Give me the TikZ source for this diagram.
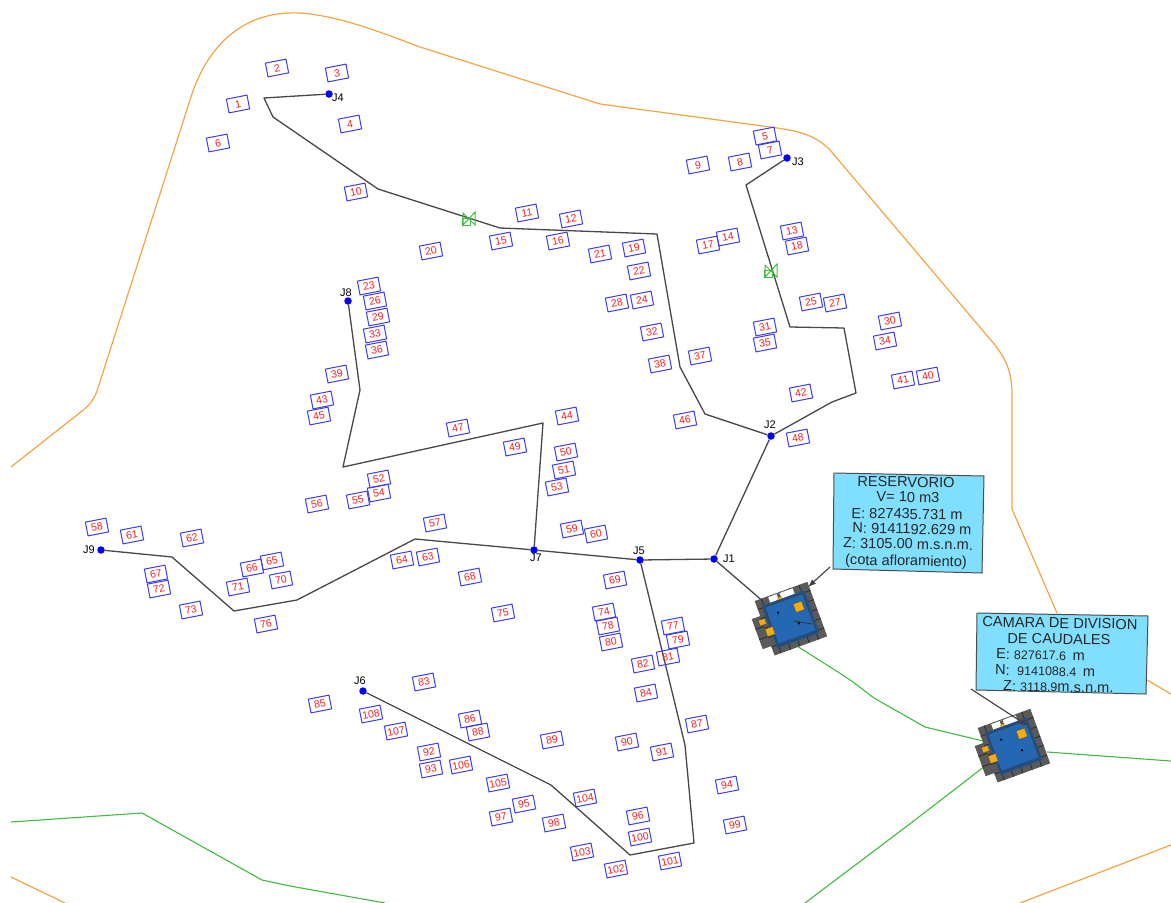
\documentclass[tikz,border=0pt]{standalone}
\usepackage{fontspec}
\setmainfont{Liberation Sans}
\usetikzlibrary{arrows.meta}
\definecolor{orng}{HTML}{F7A445}
\definecolor{grn}{HTML}{3FBC3F}
\definecolor{pipec}{HTML}{484848}
\definecolor{hblue}{HTML}{3C3CF0}
\definecolor{hred}{HTML}{F52020}
\definecolor{cal}{HTML}{80DFFF}
\definecolor{tankb}{HTML}{2468B4}
\definecolor{tankg}{HTML}{5A5A5A}
\definecolor{tanky}{HTML}{F0AC10}
\tikzset{
 house/.style={draw=hblue,line width=1pt,minimum width=21pt,minimum height=14pt,inner sep=0pt,rotate=11,text=hred,font=\fontsize{10.5}{10}\selectfont},
 junc/.style={circle,fill=blue,minimum size=7.5pt,inner sep=0pt},
 jlab/.style={font=\fontsize{11}{11}\selectfont,text=black,inner sep=0pt},
 pipeline/.style={draw=pipec,line width=1.3pt,line join=round},
 bound/.style={draw=orng,line width=1.2pt,line join=round},
 gline/.style={draw=grn,line width=1.1pt,line join=round},
 caltext/.style={font=\fontsize{14.6}{15}\selectfont,text=black!85,inner sep=0pt,rotate=-1},
 calbox/.style={draw=black!70,line width=1pt,fill=cal},
 leader/.style={draw=black!75,line width=1.1pt},
 valvec/.style={draw=grn,line width=1pt},
 pics/tank/.style={code={
   \fill[tankg] (-36,-13) rectangle (-24,19);
   \draw[black!85,line width=0.7pt] (-36,-2)--(-24,-2) (-36,9)--(-24,9);
   \fill[tankg] (-27,-29) rectangle (29,29);
   \foreach \i in {-20,-10,0,10,20}{
     \draw[black!85,line width=0.7pt] (\i,-29)--(\i,29);
     \draw[black!85,line width=0.7pt] (-27,\i)--(29,\i);}
   \fill[white] (-13,-28) rectangle (13,-22);
   \fill[tankg] (-4,-28) rectangle (-1,-22);
   \fill[tanky] (-5,-24) rectangle (0,-20);
   \fill[tankb!80!black] (-22,-22) rectangle (23,23);
   \fill[tankb] (-19,-19) rectangle (20,19);
   \draw[black!75,line width=0.7pt] (-20,-20) rectangle (21,21);
   \fill[tanky,draw=black!70] (8,-13) rectangle (17,-4);
   \fill[tanky,draw=black!70] (-27,1) rectangle (-19,9);
   \fill[tanky] (-30,-9) rectangle (-24,-4);
   \fill[black] (-9,-10) circle (1.4);
   \fill[black] (7,7) circle (1.4);
 }}
}
\begin{document}
\begin{tikzpicture}[x=1pt,y=-1pt]
\useasboundingbox (0,0) rectangle (1171,903);
\fill[white] (0,0) rectangle (1171,903);
% boundaries
\draw[bound] (11,467) -- (82,411) .. controls (90,405) and (95,398) .. (98,388) -- (190,100) .. controls (205,50) and (240,10) .. (300,13) .. controls (340,16) and (380,32) .. (420,47) -- (600,104) -- (770,127) .. controls (800,131) and (815,135) .. (830,150) -- (995,345) .. controls (1008,362) and (1012,375) .. (1012,395) -- (1012,509) -- (1057,613);
\draw[bound] (1147,680) -- (1171,694);
\draw[bound] (11,877) -- (65,903);
\draw[bound] (1020,903) -- (1171,845);
% green lines
\draw[gline] (11,822) -- (142,813) -- (262,880) -- (290,886) -- (385,903);
\draw[gline] (797,646) -- (838,672) -- (853,682) -- (874,698) -- (925,727) -- (983,741);
\draw[gline] (1047,752) -- (1171,761);
\draw[gline] (985,766) -- (915,820) -- (805,903);
% junctions
\node[junc] (J1) at (714,559) {};
\node[junc] (J2) at (771,436) {};
\node[junc] (J3) at (787,158) {};
\node[junc] (J4) at (329,94) {};
\node[junc] (J5) at (640,560) {};
\node[junc] (J6) at (363,691) {};
\node[junc] (J7) at (534,550) {};
\node[junc] (J8) at (348,301) {};
\node[junc] (J9) at (101,550) {};
\coordinate (tankin) at (765,603);
% pipes
\draw[pipeline] (J4) -- (264,98) -- (273,117) -- (378,189) -- (500,228) -- (657,234) -- (680,367) -- (705,414) -- (J2);
\draw[pipeline] (J3) -- (746,185) -- (790,327) -- (844,328) -- (856,393) -- (832,402) -- (J2);
\draw[pipeline] (J8) -- (360,390) -- (343,467) -- (543,423) -- (J7);
\draw[pipeline] (J9) -- (172,557) -- (234,611) -- (297,600) -- (415,539) -- (J7);
\draw[pipeline] (J7) -- (J5);
\draw[pipeline] (J5) -- (J1);
\draw[pipeline] (J1) -- (J2);
\draw[pipeline] (J1) -- (tankin);
\draw[pipeline] (J5) -- (685,745) -- (694,843) -- (630,855) -- (551,785) -- (J6);
% labels of junctions
\node[jlab] (LJ1) at (729,559) {J1};
\node[jlab] (LJ2) at (770,425) {J2};
\node[jlab] (LJ3) at (798,162) {J3};
\node[jlab] (LJ4) at (338,98) {J4};
\node[jlab] (LJ5) at (639,551) {J5};
\node[jlab] (LJ6) at (360,681) {J6};
\node[jlab] (LJ7) at (536,558) {J7};
\node[jlab] (LJ8) at (346,293) {J8};
\node[jlab] (LJ9) at (89,550) {J9};
% valves
\foreach \vx/\vy in {469/219,771/271}{
 \draw[valvec] (\vx-6,\vy-6) -- (\vx+6,\vy+6) -- (\vx+6,\vy-7) -- (\vx-6,\vy+6) -- cycle;
 \draw[valvec] (\vx-7,\vy-1) rectangle (\vx+1,\vy+6);
}
% houses
\foreach \n/\hx/\hy in {1/238/104,2/277/68,3/337/73,4/350/124,5/765/136,6/218/143,7/770/150,8/740/162,9/698/165,10/356/192,
11/527/213,12/571/219,13/792/231,14/728/237,15/501/241,16/558/241,17/708/245,18/797/246,19/634/248,20/431/251,
21/600/254,22/639/271,23/369/286,24/642/300,25/811/302,26/375/301,27/835/303,28/617/303,29/378/317,30/890/321,
31/765/327,32/652/332,33/375/334,34/885/341,35/765/343,36/377/350,37/700/356,38/660/364,39/337/374,40/928/376,
41/903/380,42/801/393,43/322/400,44/567/416,45/319/416,46/685/420,47/458/428,48/798/438,49/515/447,50/566/452,
51/564/470,52/379/479,53/557/487,54/379/493,55/358/500,56/317/504,57/435/523,58/97/527,59/572/529,60/596/534,
61/132/535,62/192/538,63/428/557,64/402/560,65/272/561,66/252/568,67/156/574,68/470/577,69/615/580,70/281/580,
71/238/587,72/159/589,73/191/610,74/604/612,75/503/613,76/266/624,77/673/626,78/608/626,79/678/640,80/611/642,
81/668/657,82/643/664,83/424/682,84/646/693,85/320/704,86/470/719,87/697/724,88/478/732,89/552/740,90/627/742,
91/662/752,92/429/752,93/431/769,94/727/785,95/524/804,96/638/816,97/501/817,98/554/823,99/735/825,100/640/837,
101/670/861,102/616/869,103/582/852,104/585/798,105/498/783,106/461/765,107/396/731,108/371/714}{
 \node[house] (h\n) at (\hx,\hy) {\n};
}
% tanks
\pic[rotate=20] at (790,619) {tank};
\draw[black!80,line width=0.8pt] (794,621) -- (812,624);
\pic[rotate=20] at (1013,746) {tank};
% callout 1
\draw[calbox] (834,473) -- (984,476) -- (982,573) -- (833,569) -- cycle;
\coordinate (c1a) at (830,567);
\coordinate (c1b) at (808,587);
\draw[leader,-{Latex[length=8pt,width=6pt]}] (c1a) -- (c1b);
\node[caltext] (t1) at (906,482) {RESERVORIO};
\node[caltext] (t2) at (908,497) {V= 10 m3};
\node[caltext] (t3) at (907,514) {E: 827435.731 m};
\node[caltext] (t4) at (912,529) {N: 9141192.629 m};
\node[caltext] (t5) at (908,544) {Z: 3105.00 m.s.n.m.};
\node[caltext] (t6) at (906,562) {(cota afloramiento)};
% callout 2
\draw[calbox] (977,613) -- (1148,616) -- (1146,694) -- (976,690) -- cycle;
\coordinate (c2a) at (971,689);
\coordinate (c2b) at (1028,726);
\draw[leader,-{Latex[length=8pt,width=6pt]}] (c2a) -- (c2b);
\node[caltext] (u1) at (1060,623) {CAMARA DE DIVISION};
\node[caltext] (u2) at (1059,639) {DE CAUDALES};
\node[caltext,anchor=west] (u3) at (996,654) {E: {\fontsize{12.5}{12}\selectfont 827617.6} \,m};
\node[caltext,anchor=west] (u4) at (995,670) {N: {\fontsize{12.5}{12}\selectfont\ 9141088.4} \,m};
\node[caltext,anchor=west] (u5) at (1003,686) {Z: {\fontsize{12.5}{12}\selectfont 3118.9}m.s.n.m.};
\end{tikzpicture}
\end{document}
